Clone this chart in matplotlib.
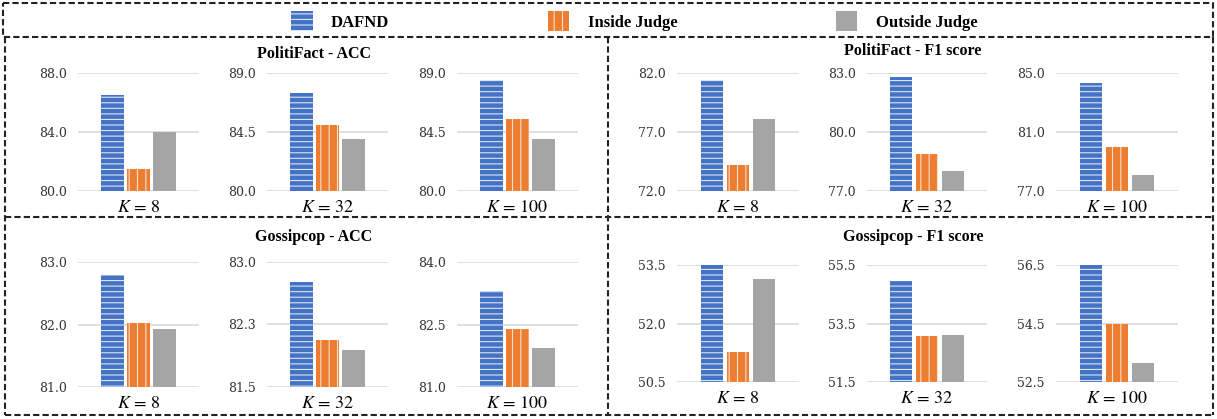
import matplotlib
matplotlib.use('Agg')
import matplotlib.pyplot as plt
from matplotlib.lines import Line2D
from matplotlib.patches import Patch
import numpy as np

# values
k_values = ['8', '32', '100']
methods = ['DAFND', 'Inside Judge', 'Outside Judge']

pf_acc_dafnd = [86.5, 87.5, 88.5]
pf_acc_inside = [81.5, 85.0, 85.5]
pf_acc_outside = [84.0, 84.0, 84.0]

pf_f1_dafnd = [81.4, 82.8, 84.3]
pf_f1_inside = [74.2, 78.9, 80.0]
pf_f1_outside = [78.1, 78.0, 78.1]

gc_acc_dafnd = [82.8, 82.76, 83.3]
gc_acc_inside = [82.03, 82.07, 82.4]
gc_acc_outside = [81.93, 81.94, 81.94]

gc_f1_dafnd = [53.5, 54.96, 56.5]
gc_f1_inside = [51.27, 53.08, 54.5]
gc_f1_outside = [53.14, 53.11, 53.14]

pf_acc_ticks = [[80.0, 84.0, 88.0], [80.0, 84.5, 89.0], [80.0, 84.5, 89.0]]
pf_f1_ticks = [[72.0, 77.0, 82.0], [77.0, 80.0, 83.0], [77.0, 81.0, 85.0]]
gc_acc_ticks = [[81.0, 82.0, 83.0], [81.5, 82.25, 83.0], [81.0, 82.5, 84.0]]
gc_f1_ticks = [[50.5, 52.0, 53.5], [51.5, 53.5, 55.5], [52.5, 54.5, 56.5]]

pf_acc_labels = [['80.0', '84.0', '88.0'], ['80.0', '84.5', '89.0'], ['80.0', '84.5', '89.0']]
pf_f1_labels = [['72.0', '77.0', '82.0'], ['77.0', '80.0', '83.0'], ['77.0', '81.0', '85.0']]
gc_acc_labels = [['81.0', '82.0', '83.0'], ['81.5', '82.3', '83.0'], ['81.0', '82.5', '84.0']]
gc_f1_labels = [['50.5', '52.0', '53.5'], ['51.5', '53.5', '55.5'], ['52.5', '54.5', '56.5']]

titles = ['PolitiFact - ACC', 'PolitiFact - F1 score', 'Gossipcop - ACC', 'Gossipcop - F1 score']

W, H = 1217, 419
plt.rcParams['mathtext.fontset'] = 'stix'
plt.rcParams['hatch.linewidth'] = 0.8

colors = ['#4472C4', '#ED7D31', '#A5A5A5']
hatch_colors = ['#dbe4f5', '#fbe0cc', '#A5A5A5']
hatches = ['---', '||', None]


def fx(px):
    return px / W


def fy(py):
    return 1 - py / H


fig = plt.figure(figsize=(W / 100, H / 100), dpi=100)

groups = [
    (pf_acc_dafnd, pf_acc_inside, pf_acc_outside, pf_acc_ticks, pf_acc_labels,
     [(78, 199), (267, 388), (457, 578)], (73, 191), (314, 54)),
    (pf_f1_dafnd, pf_f1_inside, pf_f1_outside, pf_f1_ticks, pf_f1_labels,
     [(677, 799), (867, 987), (1056, 1178)], (73, 191), (913, 51)),
    (gc_acc_dafnd, gc_acc_inside, gc_acc_outside, gc_acc_ticks, gc_acc_labels,
     [(78, 199), (267, 388), (457, 578)], (262, 387), (314, 237)),
    (gc_f1_dafnd, gc_f1_inside, gc_f1_outside, gc_f1_ticks, gc_f1_labels,
     [(677, 799), (867, 987), (1056, 1178)], (265, 382), (913, 237)),
]

x = np.arange(3) - 1
for gi, (d, ins, outs, ticks, labels, xs, (yt, yb), (tx, ty)) in enumerate(groups):
    for i in range(3):
        x0, x1 = xs[i]
        ax = fig.add_axes([fx(x0), fy(yb), (x1 - x0) / W, (yb - yt) / H])
        vals = [d[i], ins[i], outs[i]]
        for j in range(3):
            ax.bar(x[j], vals[j], width=0.85, color=colors[j], edgecolor=hatch_colors[j],
                   linewidth=0, hatch=hatches[j], zorder=3)
        ax.set_xlim(-2.33, 2.33)
        ax.set_ylim(ticks[i][0], ticks[i][-1])
        ax.set_yticks(ticks[i])
        ax.set_yticklabels(labels[i], fontsize=9, family='DejaVu Serif', color='#333333')
        ax.set_xticks([])
        ax.tick_params(axis='y', length=0, pad=8)
        ax.grid(True, axis='y', color='#D9D9D9', linewidth=1.2, zorder=0)
        for s in ax.spines.values():
            s.set_visible(False)
        ax.annotate(f'$K\\,=\\,{k_values[i]}$', xy=(0.5, 0), xycoords='axes fraction',
                    xytext=(0, -5), textcoords='offset points', ha='center', va='top',
                    fontsize=13)
    fig.text(fx(tx), fy(ty), titles[gi], ha='center', va='center', fontsize=11.5,
             fontweight='bold', family='Liberation Serif')

# dashed boxes
ls = (0, (3, 1.5))
box_lines = [
    ([3, 1213, 1213, 3, 3], [3, 3, 37, 37, 3]),
    ([5, 5], [37, 415]),
    ([1213, 1213], [37, 415]),
    ([608, 608], [37, 415]),
    ([5, 1213], [217, 217]),
    ([5, 1213], [415, 415]),
]
for xs_, ys_ in box_lines:
    fig.add_artist(Line2D([fx(v) for v in xs_], [fy(v) for v in ys_], color='#222222',
                          linewidth=1.5, linestyle=ls))

handles = [Patch(facecolor=colors[j], edgecolor=hatch_colors[j], linewidth=0, hatch=hatches[j])
           for j in range(3)]
fig.legend(handles, methods, loc='center', bbox_to_anchor=(fx(634), fy(21)), ncol=3,
           frameon=False, handlelength=1.3, handleheight=1.45, handletextpad=1.1,
           columnspacing=9.5, prop={'family': 'Liberation Serif', 'weight': 'bold', 'size': 12})

fig.savefig('out.png', dpi=100)
